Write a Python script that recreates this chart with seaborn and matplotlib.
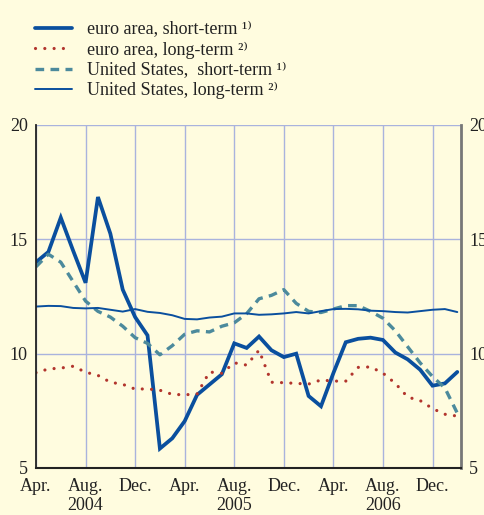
import matplotlib
matplotlib.use("Agg")
import matplotlib.pyplot as plt
import matplotlib.transforms as mtransforms
import numpy as np
import pandas as pd
import seaborn as sns

# monthly observations, Apr. 2004 (month 0) to Feb. 2007 (month 34)
months = list(range(35))

euro_short = [14.0, 14.45, 15.95, 14.5, 13.1, 16.85, 15.25, 12.8, 11.6, 10.8,
              5.85, 6.3, 7.05, 8.2, 8.65, 9.1, 10.45, 10.25, 10.75, 10.15,
              9.85, 10.0, 8.15, 7.7, 9.15, 10.5, 10.65, 10.7, 10.6, 10.05,
              9.75, 9.3, 8.6, 8.7, 9.2]
euro_long = [9.17, 9.33, 9.37, 9.45, 9.19, 9.05, 8.75, 8.66, 8.45, 8.46,
             8.4, 8.22, 8.2, 8.24, 9.2, 9.14, 9.6, 9.5, 10.15, 8.75,
             8.73, 8.7, 8.67, 8.85, 8.8, 8.8, 9.4, 9.42, 9.15, 8.7,
             8.1, 7.95, 7.6, 7.35, 7.27]
us_short = [13.8, 14.35, 14.0, 13.15, 12.3, 11.85, 11.6, 11.2, 10.7, 10.45,
            9.95, 10.35, 10.85, 11.0, 10.95, 11.2, 11.35, 11.75, 12.4, 12.55,
            12.8, 12.2, 11.85, 11.8, 11.95, 12.1, 12.1, 11.85, 11.55, 11.0,
            10.3, 9.6, 9.0, 8.5, 7.4]
us_long = [12.06, 12.09, 12.08, 12.0, 11.98, 12.0, 11.92, 11.84, 11.95, 11.83,
           11.78, 11.68, 11.52, 11.5, 11.58, 11.62, 11.76, 11.76, 11.7, 11.72,
           11.76, 11.82, 11.76, 11.86, 11.95, 11.96, 11.94, 11.88, 11.86, 11.82,
           11.8, 11.86, 11.92, 11.95, 11.82]

series_labels = ['euro area, short-term ¹⁾', 'euro area, long-term ²⁾',
                 'United States,  short-term ¹⁾', 'United States, long-term ²⁾']
tick_pos = [0, 4, 8, 12, 16, 20, 24, 28, 32]
tick_labels = ['Apr.', 'Aug.', 'Dec.'] * 3
year_pos = [4, 16, 28]
year_labels = ['2004', '2005', '2006']
y_ticks = [5, 10, 15, 20]

bg = '#fffcdf'
grid_col = '#a9b3dd'
dark_blue = '#0a4f9e'
teal = '#4c8a9c'
red = '#b2352d'

sns.set_style('white')
plt.rcParams['font.family'] = ['Liberation Serif', 'DejaVu Serif']

df = pd.DataFrame({'month': months, 'es': euro_short, 'el': euro_long,
                   'us': us_short, 'ul': us_long})

fig = plt.figure(figsize=(4.85, 5.15), dpi=100, facecolor=bg)
ax = fig.add_axes([36 / 485, 1 - 468 / 515, 425 / 485, 343 / 515])
ax.set_facecolor(bg)

sns.lineplot(data=df, x='month', y='es', ax=ax, color=dark_blue, lw=2.7,
             label=series_labels[0], solid_joinstyle='miter')
sns.lineplot(data=df, x='month', y='el', ax=ax, color=red, lw=2.3,
             linestyle=(0, (0.01, 2.9)), dash_capstyle='round',
             label=series_labels[1])
sns.lineplot(data=df, x='month', y='us', ax=ax, color=teal, lw=2.4,
             linestyle=(0, (2.6, 1.9)), label=series_labels[2])
sns.lineplot(data=df, x='month', y='ul', ax=ax, color=dark_blue, lw=1.4,
             label=series_labels[3])

ax.set_xlim(0, 34.3)
ax.set_ylim(5, 20)
ax.set_xlabel('')
ax.set_ylabel('')

ax.set_xticks(tick_pos)
ax.set_xticklabels(tick_labels, fontsize=13)
ax.set_yticks(y_ticks)
ax.set_yticklabels([str(v) for v in y_ticks], fontsize=13)
ax.tick_params(axis='x', direction='out', length=5, width=1.3, color='#222222',
               pad=2, labelcolor='#222222')
ax.tick_params(axis='y', length=0, pad=6, labelcolor='#222222',
               labelright=True, labelleft=True)

# grid
ax.grid(True, color=grid_col, lw=1.0)
ax.set_axisbelow(True)

ax.spines['top'].set_visible(False)
ax.axhline(20, color=grid_col, lw=1.2, zorder=0.5)
ax.spines['left'].set_color('#222222')
ax.spines['left'].set_linewidth(1.3)
ax.spines['bottom'].set_color('#222222')
ax.spines['bottom'].set_linewidth(1.5)
ax.spines['right'].set_color('#777777')
ax.spines['right'].set_linewidth(2.0)

trans = mtransforms.blended_transform_factory(ax.transData, ax.transAxes)
for p, lab in zip(year_pos, year_labels):
    ax.text(p, -0.11, lab, transform=trans, ha='center', va='center',
            fontsize=13, color='#222222')

handles, labels = ax.get_legend_handles_labels()
ax.get_legend().remove()
fig.legend(handles, labels, loc='upper left', bbox_to_anchor=(0.05, 0.98),
           frameon=False, fontsize=13, handlelength=2.05, handletextpad=0.8,
           labelspacing=0.18, borderaxespad=0.2, labelcolor='#222222')

fig.savefig('out.png', dpi=100, facecolor=bg)
